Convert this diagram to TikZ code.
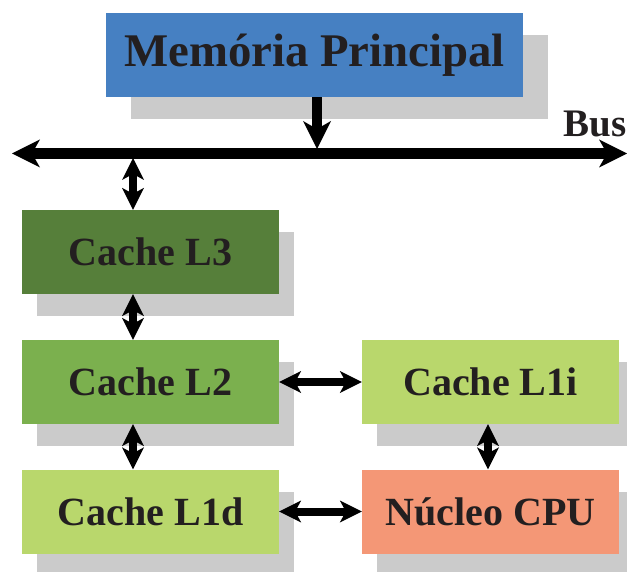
\documentclass[tikz,border=0pt]{standalone}
\usepackage{fontspec}
\setmainfont{Liberation Serif}
\usetikzlibrary{arrows.meta,shadows}
\definecolor{ink}{HTML}{231F20}
\definecolor{shadowgray}{HTML}{CBCBCB}
\definecolor{memblue}{HTML}{4680C2}
\definecolor{greenthree}{HTML}{567F3A}
\definecolor{greentwo}{HTML}{7BB04E}
\definecolor{greenone}{HTML}{B9D76C}
\definecolor{coreorange}{HTML}{F49776}

\begin{document}
\begin{tikzpicture}[x=1pt, y=-1pt,
    every node/.style = {inner sep=0, text=ink,
        font=\bfseries\fontsize{40}{40}\selectfont},
    cachebox/.style = {minimum width=257pt, minimum height=84pt, fill=#1,
        drop shadow={shadow xshift=15pt, shadow yshift=-22pt,
                     fill=shadowgray, opacity=1}},
    link/.style = {line width=8pt,
        {Stealth[length=22pt,width=22pt,inset=6pt,line width=0pt]}-{Stealth[length=22pt,width=22pt,inset=6pt,line width=0pt]}},
    buslink/.style = {line width=10.5pt,
        {Stealth[length=28pt,width=28pt,inset=8pt,line width=0pt]}-{Stealth[length=28pt,width=28pt,inset=8pt,line width=0pt]}}
    ]
    \useasboundingbox (0,0) rectangle (627,572);
    \node[minimum width=417pt, minimum height=84pt, fill=memblue,
          drop shadow={shadow xshift=25pt, shadow yshift=-22pt, fill=shadowgray, opacity=1},
          font=\bfseries\fontsize{46.8}{46.8}\selectfont] (mem) at (314.5,55) {Memória Principal};
    \node[cachebox=greenthree] (l3) at (150.5,252) {Cache L3};
    \node[cachebox=greentwo] (l2) at (150.5,382) {Cache L2};
    \node[cachebox=greenone] (l1d) at (150.5,511.5) {Cache L1d};
    \node[cachebox=greenone] (l1i) at (490.5,382) {Cache L1i};
    \node[cachebox=coreorange] (cpu) at (490.5,511.5) {Núcleo CPU};
    \node[anchor=base east, font=\bfseries\fontsize{39}{39}\selectfont] (bus) at (627,137) {Bus};

    \coordinate (busL) at (12,153.5);
    \coordinate (busR) at (627,153.5);
    \coordinate (busM) at (317,149);
    \coordinate (busA) at (133,158);
    \draw[buslink] (busL) -- (busR);
    \draw[line width=10.5pt, -{Stealth[length=28pt,width=28pt,inset=8pt,line width=0pt]}]
        (mem.south -| busM) -- (busM);
    \draw[link] (busA) -- (l3.north -| busA);
    \draw[link] (l3.south -| busA) -- (l2.north -| busA);
    \draw[link] (l2.south -| busA) -- (l1d.north -| busA);
    \draw[link] (l2.east) -- (l1i.west);
    \draw[link] (l1d.east) -- (cpu.west);
    \draw[link] (l1i.south -| 488,0) -- (cpu.north -| 488,0);
\end{tikzpicture}
\end{document}
